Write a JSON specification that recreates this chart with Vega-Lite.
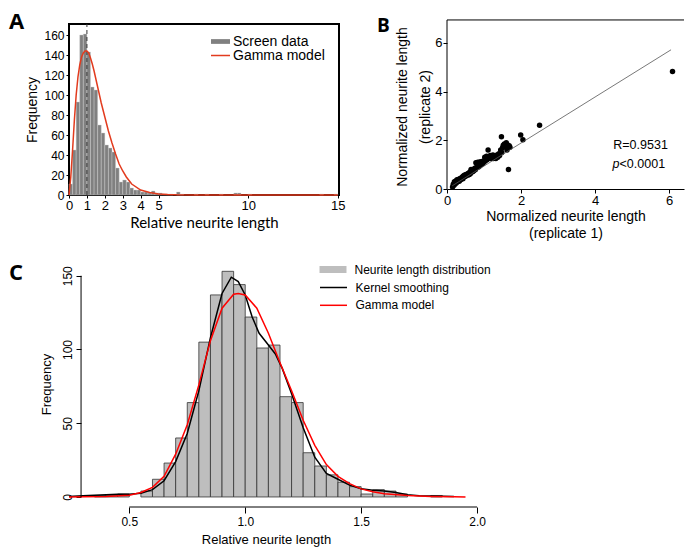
{
  "$schema": "https://vega.github.io/schema/vega-lite/v6.json",
  "padding": {"left": 8, "top": 9, "right": 1, "bottom": 1},
  "config": {
    "font": "Liberation Sans",
    "view": {"stroke": null},
    "axis": {"grid": false, "domainColor": "black", "tickColor": "black", "labelColor": "black", "titleColor": "black", "titleFontWeight": "normal", "labelFont": "Liberation Sans", "titleFont": "Liberation Sans", "labelFlush": false, "labelOverlap": false, "labelBound": false},
    "legend": {"labelColor": "black", "labelFont": "Liberation Sans", "padding": 0}
  },
  "resolve": {"scale": {"fill": "independent", "stroke": "independent"}, "legend": {"fill": "independent", "stroke": "independent"}},
  "datasets": {
    "histA": [
      {"x": 0.0, "x2": 0.2, "y": 11}, {"x": 0.2, "x2": 0.4, "y": 45}, {"x": 0.4, "x2": 0.6, "y": 93},
      {"x": 0.6, "x2": 0.8, "y": 160}, {"x": 0.8, "x2": 1.0, "y": 161}, {"x": 1.0, "x2": 1.2, "y": 143},
      {"x": 1.2, "x2": 1.4, "y": 108}, {"x": 1.4, "x2": 1.6, "y": 105}, {"x": 1.6, "x2": 1.8, "y": 70},
      {"x": 1.8, "x2": 2.0, "y": 62}, {"x": 2.0, "x2": 2.2, "y": 50}, {"x": 2.2, "x2": 2.4, "y": 47},
      {"x": 2.4, "x2": 2.6, "y": 43}, {"x": 2.6, "x2": 2.8, "y": 27}, {"x": 2.8, "x2": 3.0, "y": 13},
      {"x": 3.0, "x2": 3.2, "y": 15}, {"x": 3.2, "x2": 3.4, "y": 13}, {"x": 3.4, "x2": 3.6, "y": 7},
      {"x": 3.6, "x2": 3.8, "y": 5}, {"x": 3.8, "x2": 4.0, "y": 5}, {"x": 4.0, "x2": 4.2, "y": 3},
      {"x": 4.2, "x2": 4.4, "y": 3}, {"x": 4.4, "x2": 4.6, "y": 2}, {"x": 4.6, "x2": 4.8, "y": 4},
      {"x": 4.8, "x2": 5.0, "y": 2}, {"x": 5.0, "x2": 5.2, "y": 2}, {"x": 5.2, "x2": 5.4, "y": 1},
      {"x": 5.4, "x2": 5.6, "y": 1}, {"x": 5.6, "x2": 5.8, "y": 1}, {"x": 6.0, "x2": 6.2, "y": 3},
      {"x": 6.2, "x2": 6.4, "y": 1}, {"x": 7.0, "x2": 7.2, "y": 1}, {"x": 7.6, "x2": 7.8, "y": 1},
      {"x": 8.4, "x2": 8.6, "y": 1}, {"x": 9.2, "x2": 9.4, "y": 2}, {"x": 9.4, "x2": 9.6, "y": 2},
      {"x": 10.0, "x2": 10.2, "y": 1}, {"x": 14.0, "x2": 14.2, "y": 1}, {"x": 14.8, "x2": 15.0, "y": 1}
    ],
    "gammaA": [
      {"x": 0, "y": 0}, {"x": 0.1, "y": 18}, {"x": 0.2, "y": 45}, {"x": 0.3, "y": 75}, {"x": 0.4, "y": 100},
      {"x": 0.5, "y": 118}, {"x": 0.6, "y": 130}, {"x": 0.7, "y": 138}, {"x": 0.8, "y": 142}, {"x": 0.9, "y": 144},
      {"x": 1.0, "y": 144}, {"x": 1.1, "y": 142}, {"x": 1.2, "y": 137}, {"x": 1.3, "y": 131}, {"x": 1.4, "y": 124},
      {"x": 1.6, "y": 108}, {"x": 1.8, "y": 92}, {"x": 2.0, "y": 78}, {"x": 2.2, "y": 64}, {"x": 2.4, "y": 52},
      {"x": 2.6, "y": 41}, {"x": 2.8, "y": 31}, {"x": 3.0, "y": 24}, {"x": 3.2, "y": 18}, {"x": 3.5, "y": 11},
      {"x": 4.0, "y": 5}, {"x": 4.5, "y": 2.5}, {"x": 5.0, "y": 1}, {"x": 5.5, "y": 0.5}, {"x": 6.0, "y": 0.2},
      {"x": 7.0, "y": 0}, {"x": 15.0, "y": 0}
    ],
    "pointsB": [
      {"x": 0.15, "y": 0.08}, {"x": 0.17, "y": 0.2}, {"x": 0.19, "y": 0.15}, {"x": 0.2, "y": 0.3}, {"x": 0.22, "y": 0.22},
      {"x": 0.24, "y": 0.33}, {"x": 0.25, "y": 0.25}, {"x": 0.27, "y": 0.38}, {"x": 0.28, "y": 0.3}, {"x": 0.3, "y": 0.36},
      {"x": 0.32, "y": 0.4}, {"x": 0.33, "y": 0.32}, {"x": 0.35, "y": 0.42}, {"x": 0.37, "y": 0.38}, {"x": 0.38, "y": 0.45},
      {"x": 0.4, "y": 0.43}, {"x": 0.42, "y": 0.5}, {"x": 0.43, "y": 0.42}, {"x": 0.45, "y": 0.55}, {"x": 0.47, "y": 0.5},
      {"x": 0.48, "y": 0.58}, {"x": 0.5, "y": 0.52}, {"x": 0.52, "y": 0.6}, {"x": 0.53, "y": 0.55}, {"x": 0.55, "y": 0.62},
      {"x": 0.57, "y": 0.58}, {"x": 0.58, "y": 0.65}, {"x": 0.6, "y": 0.6}, {"x": 0.62, "y": 0.7}, {"x": 0.63, "y": 0.63},
      {"x": 0.65, "y": 0.8}, {"x": 0.67, "y": 0.7}, {"x": 0.68, "y": 0.75}, {"x": 0.7, "y": 0.72}, {"x": 0.72, "y": 0.8},
      {"x": 0.73, "y": 0.76}, {"x": 0.75, "y": 0.85}, {"x": 0.77, "y": 0.8}, {"x": 0.78, "y": 1.08}, {"x": 0.8, "y": 0.88},
      {"x": 0.82, "y": 0.92}, {"x": 0.83, "y": 1.1}, {"x": 0.85, "y": 0.9}, {"x": 0.87, "y": 1.0}, {"x": 0.88, "y": 0.95},
      {"x": 0.9, "y": 1.12}, {"x": 0.92, "y": 1.0}, {"x": 0.93, "y": 1.05}, {"x": 0.95, "y": 1.1}, {"x": 0.97, "y": 1.05},
      {"x": 0.98, "y": 1.15}, {"x": 1.0, "y": 1.12}, {"x": 1.02, "y": 1.3}, {"x": 1.03, "y": 1.15}, {"x": 1.05, "y": 1.2},
      {"x": 1.07, "y": 1.35}, {"x": 1.08, "y": 1.2}, {"x": 1.1, "y": 1.25}, {"x": 1.11, "y": 1.6}, {"x": 1.12, "y": 1.3},
      {"x": 1.15, "y": 1.28}, {"x": 1.17, "y": 1.38}, {"x": 1.18, "y": 1.25}, {"x": 1.2, "y": 1.35}, {"x": 1.22, "y": 1.3},
      {"x": 1.24, "y": 1.4}, {"x": 1.25, "y": 1.25}, {"x": 1.27, "y": 1.35}, {"x": 1.3, "y": 1.32}, {"x": 1.32, "y": 1.25},
      {"x": 1.35, "y": 1.4}, {"x": 1.37, "y": 1.3}, {"x": 1.4, "y": 1.45}, {"x": 1.42, "y": 1.38}, {"x": 1.45, "y": 1.6},
      {"x": 1.47, "y": 2.15}, {"x": 1.48, "y": 1.5}, {"x": 1.5, "y": 1.7}, {"x": 1.52, "y": 1.8}, {"x": 1.55, "y": 1.85},
      {"x": 1.57, "y": 1.75}, {"x": 1.6, "y": 1.9}, {"x": 1.62, "y": 1.6}, {"x": 1.63, "y": 1.82}, {"x": 1.65, "y": 1.7},
      {"x": 1.66, "y": 0.8}, {"x": 1.68, "y": 1.78}, {"x": 1.7, "y": 1.72}, {"x": 1.99, "y": 2.22}, {"x": 2.05, "y": 2.02},
      {"x": 2.5, "y": 2.62}, {"x": 6.09, "y": 4.83}
    ],
    "fitB": [{"x": 0.14, "y": 0.13}, {"x": 6.05, "y": 5.72}],
    "annB": [
      {"x": 4.49, "y": 1.81, "label": "R=0.9531", "style": "normal"},
      {"x": 4.47, "y": 1.03, "label": "p", "style": "italic"},
      {"x": 4.66, "y": 1.03, "label": "<0.0001", "style": "normal"}
    ],
    "histC": [
      {"x0": 0.35, "x1": 0.40, "count": 1}, {"x0": 0.40, "x1": 0.45, "count": 1}, {"x0": 0.45, "x1": 0.50, "count": 2},
      {"x0": 0.55, "x1": 0.60, "count": 4}, {"x0": 0.60, "x1": 0.65, "count": 12}, {"x0": 0.65, "x1": 0.70, "count": 23},
      {"x0": 0.70, "x1": 0.75, "count": 40}, {"x0": 0.75, "x1": 0.80, "count": 64}, {"x0": 0.80, "x1": 0.85, "count": 105},
      {"x0": 0.85, "x1": 0.90, "count": 137}, {"x0": 0.90, "x1": 0.95, "count": 153}, {"x0": 0.95, "x1": 1.00, "count": 144},
      {"x0": 1.00, "x1": 1.05, "count": 122}, {"x0": 1.05, "x1": 1.10, "count": 101}, {"x0": 1.10, "x1": 1.15, "count": 103},
      {"x0": 1.15, "x1": 1.20, "count": 68}, {"x0": 1.20, "x1": 1.25, "count": 64}, {"x0": 1.25, "x1": 1.30, "count": 30},
      {"x0": 1.30, "x1": 1.35, "count": 21}, {"x0": 1.35, "x1": 1.40, "count": 15}, {"x0": 1.40, "x1": 1.45, "count": 10},
      {"x0": 1.45, "x1": 1.50, "count": 7}, {"x0": 1.50, "x1": 1.55, "count": 2}, {"x0": 1.55, "x1": 1.60, "count": 5},
      {"x0": 1.60, "x1": 1.65, "count": 4}, {"x0": 1.65, "x1": 1.70, "count": 2}, {"x0": 1.80, "x1": 1.85, "count": 1}
    ],
    "curvesC": [
      {"series": "Kernel smoothing", "x": 0.24, "y": 0.3}, {"series": "Kernel smoothing", "x": 0.3, "y": 0.8},
      {"series": "Kernel smoothing", "x": 0.35, "y": 1.2}, {"series": "Kernel smoothing", "x": 0.4, "y": 1.5},
      {"series": "Kernel smoothing", "x": 0.45, "y": 1.8}, {"series": "Kernel smoothing", "x": 0.5, "y": 1.8},
      {"series": "Kernel smoothing", "x": 0.55, "y": 2.5}, {"series": "Kernel smoothing", "x": 0.6, "y": 5},
      {"series": "Kernel smoothing", "x": 0.65, "y": 11}, {"series": "Kernel smoothing", "x": 0.7, "y": 24},
      {"series": "Kernel smoothing", "x": 0.75, "y": 43}, {"series": "Kernel smoothing", "x": 0.8, "y": 72},
      {"series": "Kernel smoothing", "x": 0.85, "y": 108}, {"series": "Kernel smoothing", "x": 0.9, "y": 138},
      {"series": "Kernel smoothing", "x": 0.94, "y": 149}, {"series": "Kernel smoothing", "x": 0.97, "y": 146},
      {"series": "Kernel smoothing", "x": 1.0, "y": 137}, {"series": "Kernel smoothing", "x": 1.03, "y": 122},
      {"series": "Kernel smoothing", "x": 1.06, "y": 111}, {"series": "Kernel smoothing", "x": 1.1, "y": 103},
      {"series": "Kernel smoothing", "x": 1.13, "y": 97}, {"series": "Kernel smoothing", "x": 1.16, "y": 87},
      {"series": "Kernel smoothing", "x": 1.2, "y": 70}, {"series": "Kernel smoothing", "x": 1.25, "y": 47},
      {"series": "Kernel smoothing", "x": 1.3, "y": 27}, {"series": "Kernel smoothing", "x": 1.35, "y": 16},
      {"series": "Kernel smoothing", "x": 1.4, "y": 12}, {"series": "Kernel smoothing", "x": 1.45, "y": 8},
      {"series": "Kernel smoothing", "x": 1.5, "y": 5.5}, {"series": "Kernel smoothing", "x": 1.55, "y": 4.5},
      {"series": "Kernel smoothing", "x": 1.6, "y": 4}, {"series": "Kernel smoothing", "x": 1.65, "y": 3},
      {"series": "Kernel smoothing", "x": 1.7, "y": 1.5}, {"series": "Kernel smoothing", "x": 1.75, "y": 0.8},
      {"series": "Kernel smoothing", "x": 1.8, "y": 0.6}, {"series": "Kernel smoothing", "x": 1.85, "y": 0.5},
      {"series": "Kernel smoothing", "x": 1.9, "y": 0.3},
      {"series": "Gamma model", "x": 0.24, "y": 0}, {"series": "Gamma model", "x": 0.3, "y": 0.1},
      {"series": "Gamma model", "x": 0.4, "y": 0.4}, {"series": "Gamma model", "x": 0.5, "y": 1.2},
      {"series": "Gamma model", "x": 0.55, "y": 3}, {"series": "Gamma model", "x": 0.6, "y": 6.5},
      {"series": "Gamma model", "x": 0.65, "y": 14}, {"series": "Gamma model", "x": 0.7, "y": 29},
      {"series": "Gamma model", "x": 0.75, "y": 49}, {"series": "Gamma model", "x": 0.8, "y": 76},
      {"series": "Gamma model", "x": 0.85, "y": 106}, {"series": "Gamma model", "x": 0.9, "y": 128},
      {"series": "Gamma model", "x": 0.95, "y": 137.5}, {"series": "Gamma model", "x": 0.97, "y": 138},
      {"series": "Gamma model", "x": 1.0, "y": 137}, {"series": "Gamma model", "x": 1.05, "y": 128},
      {"series": "Gamma model", "x": 1.1, "y": 111}, {"series": "Gamma model", "x": 1.15, "y": 91},
      {"series": "Gamma model", "x": 1.2, "y": 72}, {"series": "Gamma model", "x": 1.25, "y": 52},
      {"series": "Gamma model", "x": 1.3, "y": 35}, {"series": "Gamma model", "x": 1.35, "y": 22},
      {"series": "Gamma model", "x": 1.4, "y": 14}, {"series": "Gamma model", "x": 1.45, "y": 9},
      {"series": "Gamma model", "x": 1.5, "y": 5.5}, {"series": "Gamma model", "x": 1.55, "y": 3.5},
      {"series": "Gamma model", "x": 1.6, "y": 2.2}, {"series": "Gamma model", "x": 1.7, "y": 1},
      {"series": "Gamma model", "x": 1.8, "y": 0.4}, {"series": "Gamma model", "x": 1.9, "y": 0.1},
      {"series": "Gamma model", "x": 1.95, "y": 0}
    ]
  },
  "spacing": 21,
  "vconcat": [
    {
      "resolve": {"scale": {"fill": "independent", "stroke": "independent"}, "legend": {"fill": "independent", "stroke": "independent"}},
      "spacing": 31,
      "hconcat": [
        {
          "width": 270,
          "height": 171,
          "view": {"stroke": "black", "strokeWidth": 2},
          "title": {"text": "A", "anchor": "start", "frame": "group", "orient": "top", "font": "Open Sans", "fontSize": 22, "fontWeight": "bold", "color": "black", "dx": -60, "dy": 27, "offset": 0, "baseline": "alphabetic"},
          "encoding": {
            "x": {"field": "x", "type": "quantitative", "scale": {"domain": [0, 15.07], "nice": false, "zero": false},
              "axis": {"values": [0, 1, 2, 3, 4, 5, 10, 15], "labelOverlap": false, "title": "Relative neurite length", "titleFont": "Lato", "titleFontSize": 15, "labelFontSize": 13, "tickSize": 3, "labelPadding": 1, "titlePadding": 3}},
            "y": {"field": "y", "type": "quantitative", "scale": {"domain": [0, 171], "nice": false, "zero": false},
              "axis": {"values": [0, 20, 40, 60, 80, 100, 120, 140, 160], "labelOverlap": false, "title": "Frequency", "titleFontSize": 14, "labelFontSize": 12, "tickSize": 3, "labelPadding": 2, "titlePadding": 4}}
          },
          "layer": [
            {
              "data": {"name": "histA"},
              "mark": {"type": "bar", "stroke": "#d0d0d0", "strokeWidth": 0.4},
              "encoding": {
                "x2": {"field": "x2"},
                "y2": {"datum": 0},
                "fill": {"datum": "Screen data", "scale": {"range": ["#808080"]},
                  "legend": {"orient": "none", "legendX": 144.5, "legendY": 10.5, "title": null, "symbolType": "M-2,-0.5H2V0.5H-2Z", "symbolSize": 90, "symbolStrokeWidth": 0, "labelFontSize": 14, "labelOffset": 5.5}}
              }
            },
            {
              "data": {"values": [{"x": 1, "y": 0, "y2": 171}]},
              "mark": {"type": "rule", "strokeDash": [4, 3], "color": "#333333", "strokeWidth": 1},
              "encoding": {"y2": {"field": "y2"}}
            },
            {
              "data": {"name": "gammaA"},
              "mark": {"type": "line", "strokeWidth": 1.5},
              "encoding": {
                "stroke": {"datum": "Gamma model", "scale": {"range": ["#e23b1e"]},
                  "legend": {"orient": "none", "legendX": 144.5, "legendY": 24.5, "title": null, "symbolType": "M-2,0H2", "symbolSize": 90, "symbolStrokeWidth": 1.5, "labelFontSize": 14, "labelOffset": 5.5}}
              }
            }
          ]
        },
        {
          "width": 237,
          "height": 165,
          "title": {"text": "B", "anchor": "start", "frame": "group", "orient": "top", "font": "Open Sans", "fontSize": 19, "fontWeight": "bold", "color": "black", "dx": -70, "dy": 32, "offset": 0, "baseline": "alphabetic"},
          "layer": [
            {
              "data": {"name": "pointsB"},
              "mark": {"type": "circle", "size": 30, "color": "black", "opacity": 1},
              "encoding": {
                "x": {"field": "x", "type": "quantitative", "scale": {"domain": [0, 6.4], "nice": false, "zero": false},
                  "axis": {"values": [0, 2, 4, 6], "title": ["Normalized neurite length", "(replicate 1)"], "titleFontSize": 14, "labelFontSize": 13, "tickSize": 4, "labelPadding": 1, "titlePadding": 2, "titleLineHeight": 17}},
                "y": {"field": "y", "type": "quantitative", "scale": {"domain": [0, 6.78], "nice": false, "zero": false},
                  "axis": {"values": [0, 2, 4, 6], "domain": false, "title": ["Normalized neurite length", "(replicate 2)"], "titleFontSize": 14, "labelFontSize": 13, "tickSize": 4, "labelPadding": 1, "titlePadding": 2, "titleLineHeight": 23}}
              }
            },
            {
              "data": {"name": "fitB"},
              "mark": {"type": "line", "color": "#555555", "strokeWidth": 0.8},
              "encoding": {
                "x": {"field": "x", "type": "quantitative"},
                "y": {"field": "y", "type": "quantitative"}
              }
            },
            {
              "data": {"values": [{"x": 0, "x2": 6.4, "y": 6.946}]},
              "mark": {"type": "rule", "color": "black", "strokeWidth": 1},
              "encoding": {"x": {"field": "x", "type": "quantitative"}, "x2": {"field": "x2"}, "y": {"field": "y", "type": "quantitative"}}
            },
            {
              "data": {"values": [{"x": 0, "y": 0, "y2": 6.946}]},
              "mark": {"type": "rule", "color": "black", "strokeWidth": 1},
              "encoding": {"x": {"field": "x", "type": "quantitative"}, "y": {"field": "y", "type": "quantitative"}, "y2": {"field": "y2"}}
            },
            {
              "data": {"name": "annB"},
              "transform": [{"filter": "datum.style == 'normal'"}],
              "mark": {"type": "text", "align": "left", "baseline": "middle", "fontSize": 12.5, "color": "black"},
              "encoding": {
                "x": {"field": "x", "type": "quantitative"},
                "y": {"field": "y", "type": "quantitative"},
                "text": {"field": "label"}
              }
            },
            {
              "data": {"name": "annB"},
              "transform": [{"filter": "datum.style == 'italic'"}],
              "mark": {"type": "text", "align": "left", "baseline": "middle", "fontSize": 12.5, "fontStyle": "italic", "color": "black"},
              "encoding": {
                "x": {"field": "x", "type": "quantitative"},
                "y": {"field": "y", "type": "quantitative"},
                "text": {"field": "label"}
              }
            }
          ]
        }
      ]
    },
    {
      "width": 422,
      "height": 246,
      "title": {"text": "C", "anchor": "start", "frame": "group", "orient": "top", "font": "Open Sans", "fontSize": 22, "fontWeight": "bold", "color": "black", "dx": -60, "dy": 41, "offset": 0, "baseline": "alphabetic"},
      "layer": [
        {
          "data": {"name": "histC"},
          "mark": {"type": "bar", "stroke": "#333333", "strokeWidth": 0.8},
          "encoding": {
            "x": {"field": "x0", "type": "quantitative", "scale": {"domain": [0.24, 2.06], "nice": false, "zero": false},
              "axis": {"values": [0.5, 1.0, 1.5, 2.0], "format": ".1f", "domain": false, "tickSize": 6, "labelFontSize": 12, "labelPadding": 3, "title": "Relative neurite length", "titleFontSize": 13, "titlePadding": 6, "titleX": 197}},
            "x2": {"field": "x1"},
            "y": {"field": "count", "type": "quantitative", "scale": {"domain": [-6.8, 160], "nice": false, "zero": false},
              "axis": {"values": [0, 50, 100, 150], "domain": false, "offset": -12, "tickSize": 5, "labelAngle": -90, "labelFontSize": 12, "labelPadding": 2, "title": "Frequency", "titleFontSize": 13, "titlePadding": 8}},
            "y2": {"datum": 0},
            "fill": {"datum": "Neurite length distribution", "scale": {"range": ["#bebebe"]},
              "legend": {"orient": "none", "legendX": 257, "legendY": 1.5, "title": null, "symbolType": "M-2,-0.52H2V0.52H-2Z", "symbolSize": 182, "symbolStrokeWidth": 0, "labelFontSize": 12, "labelOffset": 14.5}}
          }
        },
        {
          "data": {"name": "curvesC"},
          "mark": {"type": "line", "strokeWidth": 1.5},
          "encoding": {
            "x": {"field": "x", "type": "quantitative"},
            "y": {"field": "y", "type": "quantitative"},
            "stroke": {"field": "series", "type": "nominal", "scale": {"domain": ["Kernel smoothing", "Gamma model"], "range": ["#000000", "#ff0000"]},
              "legend": {"orient": "none", "legendX": 257, "legendY": 19, "title": null, "symbolType": "M-2,0H2", "symbolSize": 182, "symbolStrokeWidth": 1.5, "labelFontSize": 12, "labelOffset": 14.5, "rowPadding": 3.8}}
          }
        },
        {
          "data": {"values": [{"x": 0.292, "y": 0, "y2": 150}]},
          "mark": {"type": "rule", "color": "black", "strokeWidth": 1},
          "encoding": {"x": {"field": "x", "type": "quantitative"}, "y": {"field": "y", "type": "quantitative"}, "y2": {"field": "y2"}}
        },
        {
          "data": {"values": [{"x": 0.5, "x2": 2.0, "y": -6.8}]},
          "mark": {"type": "rule", "color": "black", "strokeWidth": 1},
          "encoding": {"x": {"field": "x", "type": "quantitative"}, "x2": {"field": "x2"}, "y": {"field": "y", "type": "quantitative"}}
        }
      ]
    }
  ]
}
